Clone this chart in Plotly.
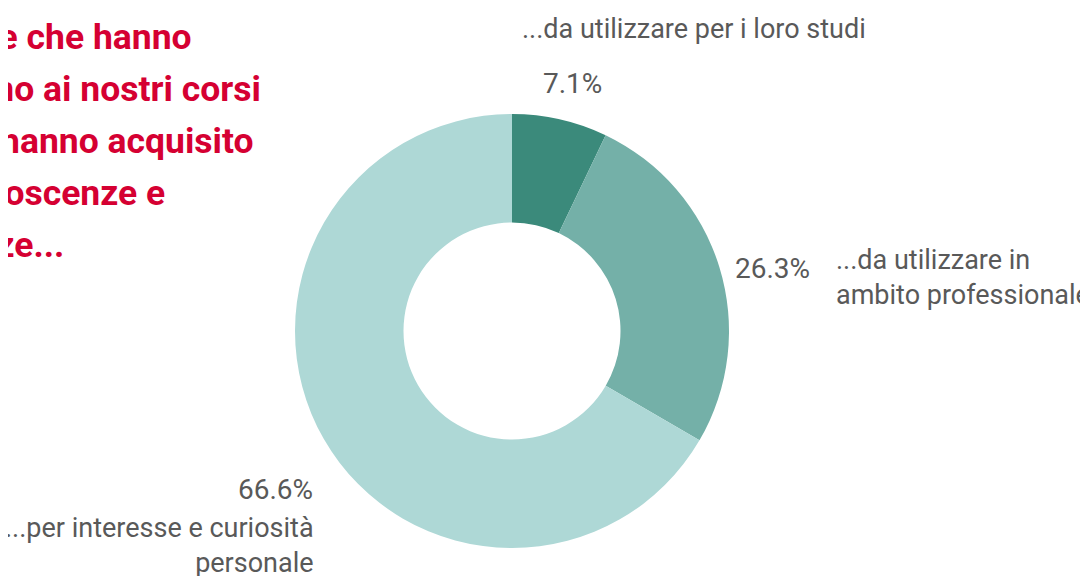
import plotly.graph_objects as go

# data
categories = ['...da utilizzare per i loro studi',
              '...da utilizzare in<br>ambito professionale',
              '...per interesse e curiosità<br>personale']
values = [7.1, 26.3, 66.6]
colors = ['#3b8a7b', '#74b0a8', '#aed8d6']
title_lines = ['Le persone che hanno',
               "partecipato quest'anno ai nostri corsi",
               'hanno acquisito',
               'conoscenze e',
               'competenze...']

W, H = 1088, 576
OFF = 8  # page body margin

fig = go.Figure()
fig.add_trace(go.Pie(labels=categories, values=values,
                     hole=0.5, sort=False, direction='clockwise',
                     marker=dict(colors=colors, line=dict(width=0)),
                     textinfo='none', hoverinfo='label+percent',
                     domain=dict(x=[(295-OFF)/W, (729-OFF)/W],
                                 y=[(28+OFF)/H, (462+OFF)/H]),
                     showlegend=False))

def px(x, y):
    return (x - OFF) / W, 1 - (y - OFF) / H

annots = []
# title, each line right-anchored (clipped on the left like the original)
title_ends = [194, 263, 256, 167, 66]
title_y = [37, 89, 141, 193, 245]
for line, xe, yc in zip(title_lines, title_ends, title_y):
    x, y = px(xe, yc)
    annots.append(dict(text='<b>%s</b>' % line, x=x, y=y, xanchor='right', yanchor='middle',
                       font=dict(size=35.5, color='#d50032', family='Roboto')))

lab_font = dict(size=27, color='#595959', family='Roboto')
pct_font = dict(size=28, color='#595959', family='Roboto')
# category labels
lab_pos = [(520, 29, 'left'), (834, 277, 'left'), (316, 545, 'right')]
for cat, (xp, yp, anc) in zip(categories, lab_pos):
    x, y = px(xp, yp)
    annots.append(dict(text=cat, x=x, y=y, xanchor=anc, yanchor='middle',
                       align=anc, font=lab_font))
# percentage labels
pct_pos = [(541, 84, 'left'), (733, 268, 'left'), (315, 489, 'right')]
for v, (xp, yp, anc) in zip(values, pct_pos):
    x, y = px(xp, yp)
    annots.append(dict(text='%.1f%%' % v, x=x, y=y, xanchor=anc, yanchor='middle',
                       font=pct_font))

for a in annots:
    a.update(xref='paper', yref='paper', showarrow=False)

fig.update_layout(width=W, height=H,
                  margin=dict(l=0, r=0, t=0, b=0),
                  paper_bgcolor='white', plot_bgcolor='white',
                  font=dict(family='Roboto'),
                  annotations=annots)

fig.write_html('out.html')
